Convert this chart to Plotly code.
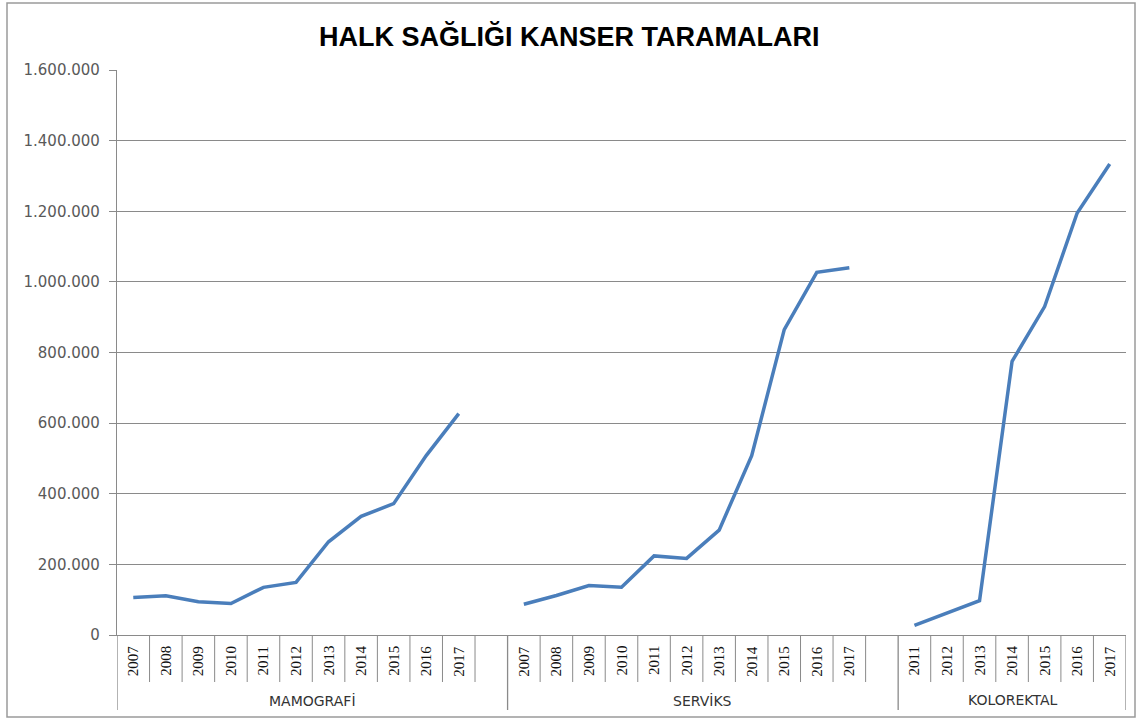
import plotly.graph_objects as go

# ---------------- data ----------------
title_text = "HALK SAĞLIĞI KANSER TARAMALARI"
groups = ["MAMOGRAFİ", "SERVİKS", "KOLOREKTAL"]

mamo_years = [2007, 2008, 2009, 2010, 2011, 2012, 2013, 2014, 2015, 2016, 2017]
mamo_values = [106000, 111000, 94000, 89000, 135000, 149000, 264000, 336000, 372000, 508000, 627000]

serviks_years = [2007, 2008, 2009, 2010, 2011, 2012, 2013, 2014, 2015, 2016, 2017]
serviks_values = [87000, 112000, 140000, 135000, 224000, 217000, 297000, 508000, 865000, 1027000, 1040000]

kolo_years = [2011, 2012, 2013, 2014, 2015, 2016, 2017]
kolo_values = [27000, 62000, 97000, 775000, 930000, 1195000, 1334000]

y_ticks = [0, 200000, 400000, 600000, 800000, 1000000, 1200000, 1400000, 1600000]

series_years = [mamo_years, serviks_years, kolo_years]
series_values = [mamo_values, serviks_values, kolo_values]
gap_slots = [1, 1, 0]  # empty category slot after each group

# ---------------- layout geometry ----------------
W, H = 1142, 722
L, R, T, B = 117, 16, 70, 87
plot_h = H - T - B
plot_w = W - L - R


def py(px):
    """pixel y (from top) -> paper y"""
    return (H - B - px) / plot_h


def pxp(px):
    """pixel x -> paper x"""
    return (px - L) / plot_w


LINE_COLOR = "#4a7ebb"
GRID = "#8a8a8a"

fig = go.Figure()
shapes = []
annotations = []

start = 0
group_bounds = []
for gi, (yrs, vals) in enumerate(zip(series_years, series_values)):
    xs = [start + i for i in range(len(yrs))]
    fig.add_trace(go.Scatter(
        x=xs, y=vals, mode="lines", name=groups[gi],
        line=dict(color=LINE_COLOR, width=3.5),
        showlegend=False, hoverinfo="x+y",
    ))
    n_slots = len(yrs) + gap_slots[gi]
    # year labels
    for i, yr in enumerate(yrs):
        annotations.append(dict(
            x=start + i, y=py(661), xref="x", yref="paper",
            text=str(yr), textangle=-90, showarrow=False,
            font=dict(family="Liberation Serif, Times New Roman, serif", size=15, color="#111111"),
            xanchor="center", yanchor="middle",
        ))
    # short dividers inside the group
    for k in range(n_slots - 1):
        xd = start + k + 0.5
        shapes.append(dict(type="line", xref="x", yref="paper",
                           x0=xd, x1=xd, y0=0, y1=py(682),
                           line=dict(color=GRID, width=1)))
    group_bounds.append((start - 0.5, start + n_slots - 0.5))
    # group label
    annotations.append(dict(
        x=start + (n_slots - 1) / 2, y=py(700), xref="x", yref="paper",
        text=groups[gi], showarrow=False,
        font=dict(family="DejaVu Sans, Verdana, sans-serif", size=14, color="#333333"),
        xanchor="center", yanchor="middle",
    ))
    start += n_slots

total_slots = start

# long group dividers
edges = sorted(set([b for pair in group_bounds for b in pair]))
for e in edges:
    shapes.append(dict(type="line", xref="x", yref="paper",
                       x0=e, x1=e, y0=0, y1=py(710),
                       line=dict(color=GRID, width=1.3)))

# outer chart border
shapes.append(dict(type="rect", xref="paper", yref="paper",
                   x0=pxp(7), x1=pxp(1135), y0=py(717), y1=py(3),
                   line=dict(color="#9a9a9a", width=1.5), fillcolor="rgba(0,0,0,0)",
                   layer="below"))

# title
annotations.append(dict(
    x=pxp(569), y=py(36), xref="paper", yref="paper",
    text="<b>" + title_text + "</b>", showarrow=False,
    font=dict(family="Liberation Sans Narrow, Arial Narrow, Liberation Sans, sans-serif",
              size=27, color="#000000"),
    xanchor="center", yanchor="middle",
))

fig.update_layout(
    width=W, height=H,
    margin=dict(l=L, r=R, t=T, b=B),
    paper_bgcolor="white", plot_bgcolor="white",
    separators=",.",
    shapes=shapes, annotations=annotations,
    showlegend=False,
)

fig.update_xaxes(
    range=[-0.5, total_slots - 0.5],
    showticklabels=False, ticks="", showgrid=False, zeroline=False,
    showline=True, linecolor=GRID, linewidth=1.3,
)

fig.update_yaxes(
    range=[0, 1600000], tickvals=y_ticks, tickformat=",d",
    showgrid=True, gridcolor=GRID, gridwidth=1,
    zeroline=False, showline=True, linecolor=GRID, linewidth=1.3,
    ticks="outside", ticklen=7, tickcolor=GRID,
    ticklabelstandoff=6,
    tickfont=dict(family="DejaVu Sans, Verdana, sans-serif", size=15, color="#595959"),
)

fig.write_html("out.html", config={"displayModeBar": False},
               post_script="document.body.style.margin='0';")
